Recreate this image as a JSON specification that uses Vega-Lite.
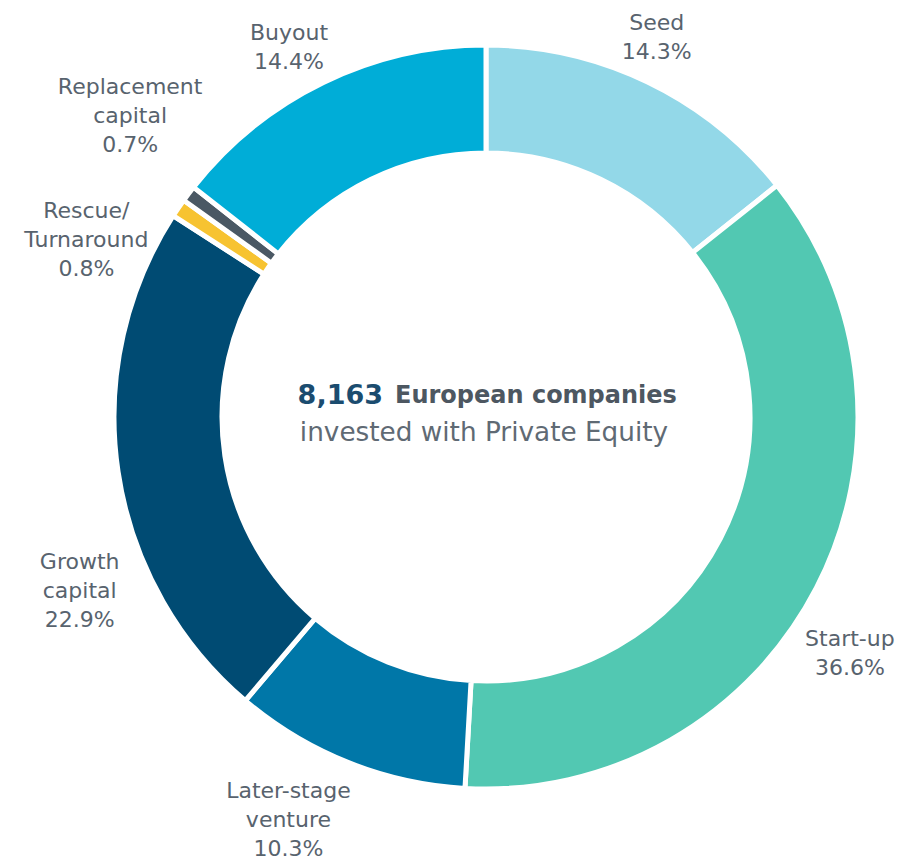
{
  "$schema": "https://vega.github.io/schema/vega-lite/v6.json",
  "width": 744,
  "height": 744,
  "autosize": "none",
  "padding": {"left": 114, "top": 45, "right": 45, "bottom": 74},
  "background": "white",
  "datasets": {
    "stages": [
      {"stage": "Seed", "share": 14.3, "order": 1, "label": "Seed\n14.3%"},
      {"stage": "Start-up", "share": 36.6, "order": 2, "label": "Start-up\n36.6%"},
      {"stage": "Later-stage venture", "share": 10.3, "order": 3, "label": "Later-stage\nventure\n10.3%"},
      {"stage": "Growth capital", "share": 22.9, "order": 4, "label": "Growth\ncapital\n22.9%"},
      {"stage": "Rescue/Turnaround", "share": 0.8, "order": 5, "label": "Rescue/\nTurnaround\n0.8%"},
      {"stage": "Replacement capital", "share": 0.7, "order": 6, "label": "Replacement\ncapital\n0.7%"},
      {"stage": "Buyout", "share": 14.4, "order": 7, "label": "Buyout\n14.4%"}
    ],
    "center": [
      {"n": "8,163", "rest": "European companies", "sub": "invested with Private Equity"}
    ]
  },
  "layer": [
    {
      "data": {"name": "stages"},
      "mark": {"type": "arc", "outerRadius": 372, "innerRadius": 264, "stroke": "white", "strokeWidth": 5},
      "encoding": {
        "theta": {"field": "share", "type": "quantitative", "stack": true},
        "order": {"field": "order", "type": "quantitative"},
        "color": {
          "field": "stage", "type": "nominal", "legend": null,
          "scale": {
            "domain": ["Seed", "Start-up", "Later-stage venture", "Growth capital", "Rescue/Turnaround", "Replacement capital", "Buyout"],
            "range": ["#93d8e8", "#52c8b2", "#0077a8", "#004b73", "#f7c331", "#4a5864", "#00add7"]
          }
        }
      }
    },
    {
      "data": {"name": "stages"},
      "mark": {"type": "text", "radius": 430, "dx": -16, "dy": -7, "font": "DejaVu Sans", "fontSize": 22, "lineHeight": 29, "lineBreak": "\n", "align": "center", "baseline": "middle", "fill": "#58636e"},
      "encoding": {
        "theta": {"field": "share", "type": "quantitative", "stack": true},
        "order": {"field": "order", "type": "quantitative"},
        "detail": {"field": "stage", "type": "nominal"},
        "text": {"condition": {"test": "datum.stage === 'Seed'", "field": "label"}, "value": ""}
      }
    },
    {
      "data": {"name": "stages"},
      "mark": {"type": "text", "radius": 430, "dx": -18, "dy": 24.5, "font": "DejaVu Sans", "fontSize": 22, "lineHeight": 29, "lineBreak": "\n", "align": "center", "baseline": "middle", "fill": "#58636e"},
      "encoding": {
        "theta": {"field": "share", "type": "quantitative", "stack": true},
        "order": {"field": "order", "type": "quantitative"},
        "detail": {"field": "stage", "type": "nominal"},
        "text": {"condition": {"test": "datum.stage === 'Start-up'", "field": "label"}, "value": ""}
      }
    },
    {
      "data": {"name": "stages"},
      "mark": {"type": "text", "radius": 430, "dx": -38, "dy": -25, "font": "DejaVu Sans", "fontSize": 22, "lineHeight": 29, "lineBreak": "\n", "align": "center", "baseline": "middle", "fill": "#58636e"},
      "encoding": {
        "theta": {"field": "share", "type": "quantitative", "stack": true},
        "order": {"field": "order", "type": "quantitative"},
        "detail": {"field": "stage", "type": "nominal"},
        "text": {"condition": {"test": "datum.stage === 'Later-stage venture'", "field": "label"}, "value": ""}
      }
    },
    {
      "data": {"name": "stages"},
      "mark": {"type": "text", "radius": 430, "dx": 19, "dy": 82, "font": "DejaVu Sans", "fontSize": 22, "lineHeight": 29, "lineBreak": "\n", "align": "center", "baseline": "middle", "fill": "#58636e"},
      "encoding": {
        "theta": {"field": "share", "type": "quantitative", "stack": true},
        "order": {"field": "order", "type": "quantitative"},
        "detail": {"field": "stage", "type": "nominal"},
        "text": {"condition": {"test": "datum.stage === 'Growth capital'", "field": "label"}, "value": ""}
      }
    },
    {
      "data": {"name": "stages"},
      "mark": {"type": "text", "radius": 430, "dx": -44, "dy": 36, "font": "DejaVu Sans", "fontSize": 22, "lineHeight": 29, "lineBreak": "\n", "align": "center", "baseline": "middle", "fill": "#58636e"},
      "encoding": {
        "theta": {"field": "share", "type": "quantitative", "stack": true},
        "order": {"field": "order", "type": "quantitative"},
        "detail": {"field": "stage", "type": "nominal"},
        "text": {"condition": {"test": "datum.stage === 'Rescue/Turnaround'", "field": "label"}, "value": ""}
      }
    },
    {
      "data": {"name": "stages"},
      "mark": {"type": "text", "radius": 430, "dx": -12, "dy": -72, "font": "DejaVu Sans", "fontSize": 22, "lineHeight": 29, "lineBreak": "\n", "align": "center", "baseline": "middle", "fill": "#58636e"},
      "encoding": {
        "theta": {"field": "share", "type": "quantitative", "stack": true},
        "order": {"field": "order", "type": "quantitative"},
        "detail": {"field": "stage", "type": "nominal"},
        "text": {"condition": {"test": "datum.stage === 'Replacement capital'", "field": "label"}, "value": ""}
      }
    },
    {
      "data": {"name": "stages"},
      "mark": {"type": "text", "radius": 430, "dx": -9, "dy": 2.5, "font": "DejaVu Sans", "fontSize": 22, "lineHeight": 29, "lineBreak": "\n", "align": "center", "baseline": "middle", "fill": "#58636e"},
      "encoding": {
        "theta": {"field": "share", "type": "quantitative", "stack": true},
        "order": {"field": "order", "type": "quantitative"},
        "detail": {"field": "stage", "type": "nominal"},
        "text": {"condition": {"test": "datum.stage === 'Buyout'", "field": "label"}, "value": ""}
      }
    },
    {
      "data": {"name": "center"},
      "mark": {"type": "text", "dx": -103, "dy": -21, "font": "DejaVu Sans", "fontWeight": "bold", "fontSize": 27, "align": "right", "baseline": "middle", "fill": "#1b4c6f"},
      "encoding": {"text": {"field": "n", "type": "nominal"}}
    },
    {
      "data": {"name": "center"},
      "mark": {"type": "text", "dx": -91, "dy": -21, "font": "DejaVu Sans", "fontWeight": "bold", "fontSize": 24, "align": "left", "baseline": "middle", "fill": "#4d5761"},
      "encoding": {"text": {"field": "rest", "type": "nominal"}}
    },
    {
      "data": {"name": "center"},
      "mark": {"type": "text", "dx": -2, "dy": 16, "font": "DejaVu Sans", "fontSize": 26.3, "align": "center", "baseline": "middle", "fill": "#5f6a74"},
      "encoding": {"text": {"field": "sub", "type": "nominal"}}
    }
  ],
  "config": {"view": {"stroke": null}}
}
